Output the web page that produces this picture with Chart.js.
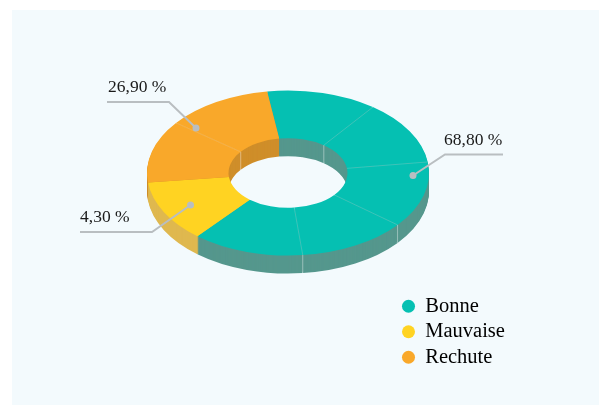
<!DOCTYPE html>
<html>
<head>
<meta charset="utf-8">
<title>Bonne, Mauvaise, Rechute</title>
<script src="https://cdn.jsdelivr.net/npm/chart.js@4/dist/chart.umd.min.js"></script>
<style>
  html, body { margin: 0; padding: 0; background: #fff; }
  #wrap { position: relative; width: 599px; height: 406px; overflow: hidden; }
  #panel { position: absolute; left: 12px; top: 10px; right: 0; bottom: 1px; background: #f3fafd; }
  #wrap canvas { position: absolute; left: 0; top: 0; }
</style>
</head>
<body>
<div id="wrap">
  <div id="panel"></div>
  <canvas id="chart" width="599" height="406"></canvas>
</div>
<script>
const categories = ['Bonne', 'Mauvaise', 'Rechute'];
const percentLabels = ['68,80 %', '4,30 %', '26,90 %'];
// the ring is not drawn to scale with the printed percentages: these are the
// angles (degrees), each category made of equal-ish pieces
const bonneSlices = [45.5, 45.3, 46.7, 45, 46];
const mauvaiseSlices = [43.3];
const rechuteSlices = [44.1, 44.1];
const startAngle = -8.5;

const faceColors = ['#05c0b2', '#ffd322', '#f9a82a'];
const wallColors = ['#55978d', '#dfb84f', '#cf8e2a'];

const tilt = 0.585;
const depth = 18;
const serif = '"Liberation Serif", serif';

const allSlices = [bonneSlices, mauvaiseSlices, rechuteSlices];
const values = allSlices.flat();
const owner = allSlices.flatMap((s, i) => s.map(() => i));

// callouts: dot, elbow, end of line, then where the text sits
const callouts = [
  { pts: [[413, 175.5], [445, 154.5], [503, 154.5]], text: percentLabels[0], x: 444, y: 145 },
  { pts: [[190.5, 205], [152, 232], [80, 232]], text: percentLabels[1], x: 80, y: 222 },
  { pts: [[196, 128], [169, 102], [107, 102]], text: percentLabels[2], x: 108, y: 92 }
];

const ring3d = {
  id: 'ring3d',
  afterLayout(chart) {
    // legend lives in the lower right corner, off the ring
    const lg = chart.legend;
    lg.left = 397;
    lg.right = 560;
    lg.top = 291;
    lg.bottom = 392;
  },
  beforeDatasetDraw(chart) {
    const ctx = chart.ctx;
    const arcs = chart.getDatasetMeta(0).data;
    const cx = arcs[0].x, cy = arcs[0].y;
    ctx.save();
    ctx.translate(cx, cy);
    ctx.scale(1, tilt);
    ctx.translate(-cx, -cy);
    // stack of copies going down, the library's own arcs in the wall colour
    for (let k = depth; k >= 1; k--) {
      ctx.save();
      ctx.translate(0, k / tilt);
      arcs.forEach((arc, i) => {
        const opts = arc.options;
        arc.options = Object.assign({}, opts, { backgroundColor: wallColors[owner[i]], borderWidth: 0 });
        arc.draw(ctx);
        arc.options = opts;
      });
      ctx.restore();
    }
  },
  afterDatasetDraw(chart) {
    const ctx = chart.ctx;
    ctx.restore();
    const arcs = chart.getDatasetMeta(0).data;
    const cx = arcs[0].x, cy = arcs[0].y;
    const at = (a, r) => [cx + r * Math.cos(a), cy + r * Math.sin(a) * tilt];
    arcs.forEach((arc, i) => {
      if (i === 0 || owner[i] !== owner[i - 1]) return;
      const a = arc.startAngle;
      const p0 = at(a, arc.innerRadius), p1 = at(a, arc.outerRadius);
      ctx.save();
      ctx.strokeStyle = 'rgba(255,255,255,0.22)';
      ctx.lineWidth = 0.8;
      ctx.beginPath();
      ctx.moveTo(p0[0], p0[1]);
      ctx.lineTo(p1[0], p1[1]);
      ctx.stroke();
      // seam carries on down the visible wall
      const wall = Math.sin(a) > 0 ? p1 : (Math.sin(a) < -0.3 ? p0 : null);
      if (wall) {
        ctx.strokeStyle = 'rgba(255,255,255,0.4)';
        ctx.lineWidth = 1;
        ctx.beginPath();
        ctx.moveTo(wall[0], wall[1]);
        ctx.lineTo(wall[0], wall[1] + depth);
        ctx.stroke();
      }
      ctx.restore();
    });
  },
  afterDraw(chart) {
    const ctx = chart.ctx;
    ctx.save();
    callouts.forEach(c => {
      ctx.strokeStyle = '#b9bec1';
      ctx.fillStyle = '#b9bec1';
      ctx.lineWidth = 2;
      ctx.beginPath();
      c.pts.forEach((p, i) => i ? ctx.lineTo(p[0], p[1]) : ctx.moveTo(p[0], p[1]));
      ctx.stroke();
      ctx.beginPath();
      ctx.arc(c.pts[0][0], c.pts[0][1], 3.5, 0, Math.PI * 2);
      ctx.fill();
      ctx.fillStyle = '#1a1a1a';
      ctx.font = '17.5px ' + serif;
      ctx.textAlign = 'left';
      ctx.textBaseline = 'alphabetic';
      ctx.fillText(c.text, c.x, c.y);
    });
    ctx.restore();
  }
};

new Chart(document.getElementById('chart'), {
  type: 'doughnut',
  data: {
    labels: owner.map(i => categories[i]),
    datasets: [{
      data: values,
      backgroundColor: owner.map(i => faceColors[i]),
      borderWidth: 0,
      clip: false
    }]
  },
  options: {
    responsive: false,
    animation: false,
    events: [],
    rotation: startAngle,
    cutout: '42.2%',
    layout: { padding: { left: 0, right: 23, top: 32, bottom: 92 } },
    plugins: {
      tooltip: { enabled: false },
      legend: {
        position: 'chartArea',
        align: 'start',
        labels: {
          usePointStyle: true,
          boxWidth: 13,
          boxHeight: 9.2,
          padding: 5,
          color: '#1a1a1a',
          font: { family: serif, size: 20.5 },
          generateLabels: () => categories.map((name, i) => ({
            text: name,
            fillStyle: faceColors[i],
            strokeStyle: faceColors[i],
            lineWidth: 0,
            pointStyle: 'circle',
            hidden: false,
            index: i
          }))
        }
      }
    }
  },
  plugins: [ring3d]
});
</script>
</body>
</html>
